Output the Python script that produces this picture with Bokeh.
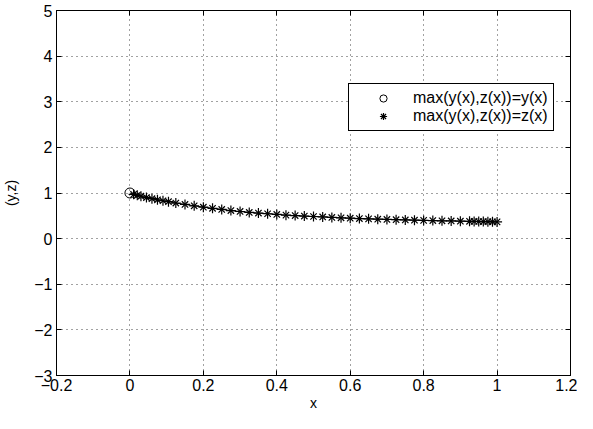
from bokeh.plotting import figure
from bokeh.models import (ColumnDataSource, Legend, LegendItem, LinearAxis,
                          FixedTicker, CustomJSTickFormatter)
from bokeh.embed import file_html
from bokeh.resources import INLINE

# ---- data ----
x_ymax = [0.0]
y_ymax = [1.0]

x_zmax = [0.01, 0.02, 0.03, 0.045, 0.06, 0.075, 0.09, 0.105, 0.125,
          0.15, 0.175, 0.2, 0.225, 0.25, 0.275, 0.3, 0.325, 0.35, 0.375,
          0.4, 0.425, 0.45, 0.475, 0.5, 0.525, 0.55, 0.575, 0.6, 0.625,
          0.65, 0.675, 0.7, 0.725, 0.75, 0.775, 0.8, 0.825, 0.85, 0.875,
          0.9, 0.925, 0.9375, 0.95, 0.9625, 0.975, 0.9875, 1.0]
y_zmax = [0.97, 0.95, 0.93, 0.90, 0.875, 0.85, 0.83, 0.81, 0.78,
          0.75, 0.72, 0.69, 0.665, 0.64, 0.615, 0.595, 0.575, 0.56, 0.545,
          0.53, 0.515, 0.505, 0.495, 0.485, 0.475, 0.465, 0.455, 0.448, 0.44,
          0.433, 0.427, 0.421, 0.415, 0.41, 0.405, 0.40, 0.395, 0.391, 0.387,
          0.383, 0.379, 0.377, 0.375, 0.373, 0.371, 0.369, 0.367]

x_ticks = [-0.2, 0.0, 0.2, 0.4, 0.6, 0.8, 1.0, 1.2]
y_ticks = [-3, -2, -1, 0, 1, 2, 3, 4, 5]

labels = ["max(y(x),z(x))=y(x)", "max(y(x),z(x))=z(x)"]

FONT = "Liberation Sans"

p = figure(width=577, height=413, x_range=(-0.2, 1.2), y_range=(-3, 5),
           output_backend="svg", toolbar_location=None,
           min_border_left=52, min_border_right=7, min_border_top=10,
           min_border_bottom=10, x_axis_label="x", y_axis_label="(y,z)")

p.background_fill_color = "white"
p.border_fill_color = "white"
p.outline_line_color = "black"
p.outline_line_width = 1

fmt_x = CustomJSTickFormatter(code="""
const v = Math.round(tick*10)/10;
const s = (Math.abs(v) < 1e-9) ? '0' : String(v);
return s.replace('-', '\u2212');
""")
fmt_y = CustomJSTickFormatter(code="""
const v = Math.round(tick);
return String(v).replace('-', '\u2212');
""")

for ax in p.xaxis:
    ax.ticker = FixedTicker(ticks=x_ticks)
    ax.formatter = fmt_x
for ax in p.yaxis:
    ax.ticker = FixedTicker(ticks=y_ticks)
    ax.formatter = fmt_y

for ax in list(p.xaxis) + list(p.yaxis):
    ax.major_tick_in = 5
    ax.major_tick_out = 0
    ax.minor_tick_line_color = None
    ax.axis_line_color = "black"
    ax.axis_line_width = 1
    ax.major_tick_line_color = "black"
    ax.major_label_text_font = FONT
    ax.major_label_text_font_size = "16px"
    ax.major_label_text_color = "black"
    ax.axis_label_text_font = FONT
    ax.axis_label_text_font_size = "14px"
    ax.axis_label_text_font_style = "normal"
    ax.axis_label_text_color = "black"

p.xaxis.major_label_standoff = 3
p.xaxis.axis_label_standoff = 1
p.yaxis.major_label_standoff = 4
p.yaxis.axis_label_standoff = 12

top = LinearAxis(ticker=FixedTicker(ticks=x_ticks),
                 formatter=CustomJSTickFormatter(code="return '';"))
right = LinearAxis(ticker=FixedTicker(ticks=y_ticks),
                   formatter=CustomJSTickFormatter(code="return '';"))
for ax in (top, right):
    ax.major_tick_in = 5
    ax.major_tick_out = 0
    ax.minor_tick_line_color = None
    ax.major_label_text_font_size = "0px"
    ax.major_label_standoff = 0
    ax.axis_label_standoff = 0
    ax.axis_line_color = "black"
    ax.major_tick_line_color = "black"
p.add_layout(top, "above")
p.add_layout(right, "right")

p.grid.grid_line_color = "#444444"
p.grid.grid_line_dash = "1 4"
p.grid.grid_line_width = 1
p.xgrid.ticker = FixedTicker(ticks=x_ticks)
p.ygrid.ticker = FixedTicker(ticks=y_ticks)

src_y = ColumnDataSource(dict(x=x_ymax, y=y_ymax))
src_z = ColumnDataSource(dict(x=x_zmax, y=y_zmax))
src_l = ColumnDataSource(dict(x=x_ymax + x_zmax, y=y_ymax + y_zmax))

p.line("x", "y", source=src_l, line_color="black", line_width=1)
r_c = p.scatter("x", "y", source=src_y, marker="circle", size=10,
                fill_color=None, line_color="black", line_width=1)
r_s1 = p.scatter("x", "y", source=src_z, marker="cross", size=10,
                 line_color="black", line_width=1.2)
r_s2 = p.scatter("x", "y", source=src_z, marker="x", size=9,
                 line_color="black", line_width=1.2)

legend = Legend(items=[LegendItem(label=labels[0], renderers=[r_c]),
                       LegendItem(label=labels[1], renderers=[r_s1, r_s2])],
                location=(292, 244))
legend.label_text_font = FONT
legend.label_text_font_size = "16px"
legend.label_text_color = "black"
legend.border_line_color = "black"
legend.border_line_alpha = 1
legend.border_line_width = 1
legend.background_fill_color = "white"
legend.background_fill_alpha = 1
legend.padding = 5
legend.spacing = 0
legend.margin = 0
legend.glyph_width = 58
legend.glyph_height = 18
legend.label_standoff = 1
legend.label_height = 18
p.add_layout(legend, "center")

open("out.html", "w").write(file_html(p, INLINE))
